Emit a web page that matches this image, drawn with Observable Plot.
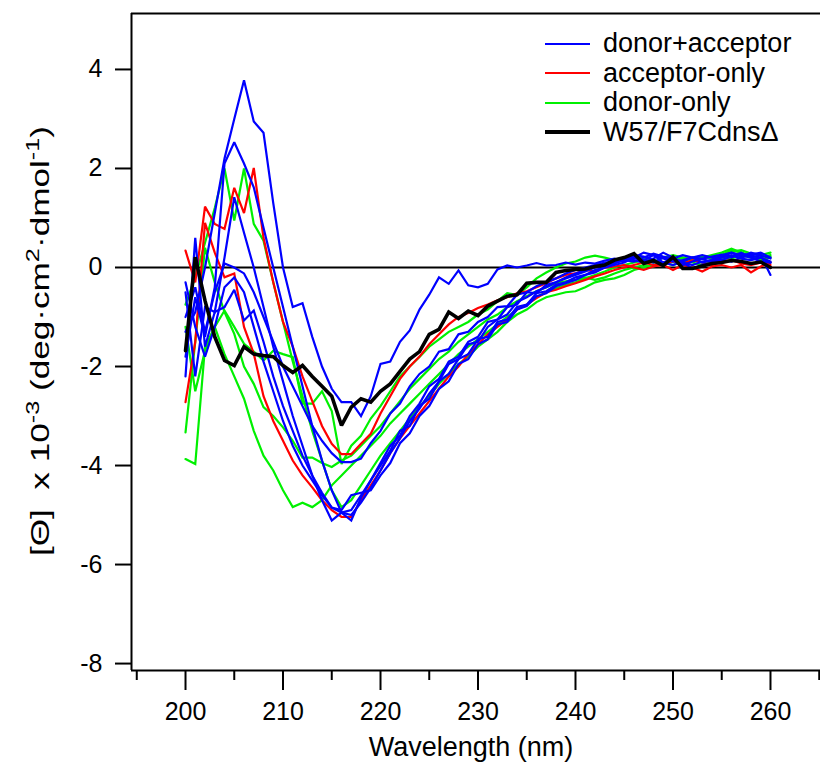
<!DOCTYPE html>
<html>
<head>
<meta charset="utf-8">
<script src="https://cdn.jsdelivr.net/npm/d3@7"></script>
<script src="https://cdn.jsdelivr.net/npm/@observablehq/plot@0.6"></script>
<style>
  html, body { margin: 0; padding: 0; background: #fff; }
  #chart { position: relative; width: 820px; height: 767px; font-family: "Liberation Sans", Arial, sans-serif; }
  #legend { position: absolute; left: 545px; top: 29px; font-size: 27px; line-height: 29.5px; color: #000; }
  #legend .row { display: flex; align-items: center; height: 29.5px; }
  #legend .swatch { width: 45px; height: 0; border-top-style: solid; margin-right: 13px; }
</style>
</head>
<body>
<div id="chart">
  <div id="legend"></div>
</div>
<script>
// Wavelength grid (nm)
const wavelength = [200,201,202,203,204,205,206,207,208,209,210,211,212,213,214,215,216,217,218,219,
  220,221,222,223,224,225,226,227,228,229,230,231,232,233,234,235,236,237,238,239,
  240,241,242,243,244,245,246,247,248,249,250,251,252,253,254,255,256,257,258,259,260];

// Mean residue ellipticity, [Θ] x 10^-3 (deg·cm²·dmol⁻¹)
// donor+acceptor samples
const da1 = [-1.3,-0.9,0.0,1.1,2.2,3.0,3.78,2.95,2.72,1.3,0.0,-0.8,-0.72,-1.4,-2.0,-2.45,-2.72,-2.72,-3.0,-2.6,
  -1.95,-1.9,-1.5,-1.27,-0.85,-0.55,-0.2,-0.33,-0.06,-0.36,-0.4,-0.33,-0.04,0.04,0.0,0.04,0.09,0.04,0.05,0.1,
  0.06,0.1,0.08,0.14,0.18,0.12,0.2,0.14,0.25,0.18,0.12,0.15,0.2,0.18,0.22,0.26,0.2,0.28,0.24,0.2,0.12];
const da2 = [-1.8,-0.6,-1.4,-0.4,2.1,2.53,2.1,1.62,0.8,0.0,-0.8,-1.6,-2.4,-3.2,-3.9,-4.5,-4.95,-5.0,-4.75,-4.45,
  -4.1,-3.75,-3.45,-3.1,-2.85,-2.55,-2.3,-1.95,-1.85,-1.55,-1.5,-1.2,-1.05,-0.95,-0.7,-0.6,-0.48,-0.4,-0.3,-0.22,
  -0.15,-0.08,0.0,0.05,0.1,0.18,0.22,0.15,0.1,0.2,0.15,0.05,0.12,0.18,0.1,0.2,0.25,0.18,0.15,0.2,0.1];
const da3 = [-0.5,-2.2,-0.8,-0.9,0.2,1.42,0.7,0.0,-0.8,-1.6,-2.3,-3.0,-3.6,-4.2,-4.7,-5.11,-4.95,-4.9,-4.6,-4.3,
  -3.95,-3.6,-3.4,-3.0,-2.75,-2.4,-2.25,-1.9,-1.8,-1.5,-1.4,-1.1,-1.05,-0.8,-0.75,-0.5,-0.52,-0.35,-0.3,-0.2,
  -0.12,-0.05,0.02,0.08,0.1,0.15,0.12,0.2,0.28,0.22,0.18,0.1,0.05,0.12,0.15,0.22,0.3,0.25,0.2,0.25,-0.15];
const da4 = [-1.0,-0.4,-1.3,-0.5,0.08,0.0,-0.12,-0.5,-1.0,-1.5,-2.0,-2.4,-2.8,-3.2,-3.5,-3.75,-3.93,-3.93,-3.86,-3.55,
  -3.3,-2.95,-2.75,-2.4,-2.15,-2.0,-1.7,-1.65,-1.35,-1.3,-1.1,-1.0,-0.8,-0.78,-0.55,-0.5,-0.38,-0.3,-0.22,-0.12,
  -0.05,0.0,0.05,0.1,0.12,0.2,0.15,0.1,0.18,0.3,0.2,0.1,-0.02,0.05,0.1,0.15,0.12,0.2,0.26,0.3,0.2];
const da5 = [-2.2,0.6,-1.6,-0.9,-0.8,-0.45,-1.07,-0.87,-1.5,-2.2,-2.8,-3.3,-3.8,-4.2,-4.55,-4.85,-4.95,-5.11,-4.65,-4.3,
  -4.0,-3.7,-3.3,-3.2,-2.8,-2.65,-2.3,-2.15,-1.85,-1.75,-1.45,-1.4,-1.1,-1.05,-0.8,-0.75,-0.52,-0.48,-0.35,-0.3,
  -0.2,-0.15,-0.05,0.0,0.08,0.15,0.25,0.22,0.15,0.1,0.18,0.25,0.2,0.1,0.15,0.25,0.3,0.22,0.3,0.25,0.18];
const da6 = [-0.3,-1.2,-1.8,-1.2,-0.4,-0.2,-0.5,-1.2,-1.9,-2.5,-3.1,-3.6,-4.0,-4.3,-4.6,-4.85,-4.9,-4.6,-4.55,-4.5,
  -4.2,-3.95,-3.55,-3.35,-3.0,-2.8,-2.45,-2.3,-1.95,-1.85,-1.55,-1.45,-1.15,-1.1,-0.85,-0.78,-0.58,-0.52,-0.38,-0.32,
  -0.25,-0.15,-0.1,0.0,0.05,0.1,0.2,0.3,0.25,0.1,0.05,0.12,0.2,0.25,0.2,0.15,0.22,0.3,0.2,0.12,0.1];

// acceptor-only samples
const ao1 = [0.34,-0.3,1.23,0.88,0.78,1.61,1.1,2.01,0.6,-0.3,-1.1,-1.6,-2.2,-2.7,-3.2,-3.56,-3.77,-3.77,-3.56,-3.36,
  -2.95,-2.6,-2.25,-2.0,-1.8,-1.55,-1.35,-1.15,-1.0,-0.92,-0.82,-0.75,-0.66,-0.6,-0.52,-0.48,-0.4,-0.32,-0.22,-0.15,
  -0.12,-0.05,-0.08,0.0,0.02,0.05,0.0,-0.05,0.02,0.05,-0.05,0.05,0.0,-0.08,0.02,0.05,0.0,0.05,-0.1,0.02,0.1];
const ao2 = [-2.72,-1.5,0.9,0.3,-0.2,-0.12,-1.2,-1.74,-2.6,-3.1,-3.5,-3.9,-4.2,-4.44,-4.7,-4.9,-5.04,-5.04,-4.7,-4.4,
  -4.1,-3.75,-3.45,-3.2,-2.95,-2.7,-2.45,-2.2,-2.0,-1.75,-1.55,-1.35,-1.2,-1.05,-0.85,-0.75,-0.62,-0.5,-0.45,-0.38,
  -0.32,-0.25,-0.18,-0.12,-0.05,0.0,0.05,0.1,0.05,0.1,0.12,0.08,0.15,0.1,0.05,0.12,0.15,0.08,0.05,0.1,0.05];

// donor-only samples
const do1 = [-0.75,-0.2,0.5,1.2,2.0,0.95,2.0,0.88,0.54,-0.3,-1.1,-1.9,-2.6,-3.3,-3.9,-4.5,-4.84,-4.7,-4.4,-4.1,
  -3.8,-3.55,-3.3,-3.05,-2.8,-2.6,-2.35,-2.15,-1.95,-1.8,-1.6,-1.45,-1.3,-1.1,-0.95,-0.85,-0.7,-0.6,-0.55,-0.5,
  -0.48,-0.4,-0.3,-0.25,-0.22,-0.15,-0.05,0.0,0.05,0.1,0.15,0.2,0.18,0.1,0.15,0.25,0.32,0.35,0.28,0.25,0.3];
const do2 = [-3.87,-3.97,-1.6,-1.2,-1.75,-2.2,-2.65,-3.3,-3.8,-4.1,-4.5,-4.84,-4.75,-4.84,-4.7,-4.4,-4.2,-4.0,-3.8,-3.6,
  -3.4,-3.15,-2.95,-2.75,-2.55,-2.35,-2.15,-1.95,-1.75,-1.6,-1.45,-1.3,-1.15,-1.0,-0.85,-0.75,-0.6,-0.5,-0.42,-0.35,
  -0.3,-0.22,-0.15,-0.08,0.0,0.05,0.1,0.15,0.1,0.2,0.25,0.2,0.15,0.2,0.25,0.3,0.38,0.3,0.22,0.15,0.2];
const do3 = [-1.2,-2.5,-1.68,-1.2,-0.87,-1.2,-1.54,-1.7,-1.88,-1.68,-1.75,-1.81,-2.75,-2.75,-2.5,-2.9,-3.97,-3.6,-3.4,-3.05,
  -2.8,-2.5,-2.2,-2.0,-1.81,-1.6,-1.45,-1.3,-1.2,-1.1,-0.95,-0.85,-0.68,-0.52,-0.55,-0.4,-0.22,-0.1,0.0,0.08,
  0.12,0.2,0.24,0.2,0.15,0.2,0.25,0.2,0.15,0.1,0.05,0.12,0.2,0.22,0.18,0.25,0.35,0.3,0.22,0.2,0.25];
const do4 = [-3.33,-1.5,0.4,-0.3,-0.9,-1.34,-2.0,-2.35,-2.82,-3.0,-3.23,-3.5,-3.84,-3.84,-3.95,-4.03,-3.9,-3.8,-3.6,-3.4,
  -3.2,-2.95,-2.7,-2.45,-2.25,-2.05,-1.85,-1.7,-1.5,-1.35,-1.2,-1.05,-0.95,-0.8,-0.68,-0.58,-0.48,-0.4,-0.32,-0.28,
  -0.25,-0.2,-0.25,-0.2,-0.12,-0.05,0.0,0.05,0.02,0.08,0.12,0.15,0.1,0.05,0.12,0.2,0.18,0.25,0.2,0.15,0.22];

// W57/F7CdnsΔ
const w57 = [-1.68,0.21,-0.67,-1.4,-1.88,-1.98,-1.6,-1.75,-1.78,-1.8,-1.98,-2.12,-1.98,-2.2,-2.4,-2.6,-3.19,-2.82,-2.65,-2.72,
  -2.5,-2.35,-2.1,-1.85,-1.7,-1.35,-1.25,-0.9,-1.03,-0.88,-0.97,-0.78,-0.68,-0.58,-0.55,-0.32,-0.3,-0.3,-0.1,-0.06,
  -0.04,-0.03,0.02,0.05,0.15,0.2,0.28,0.08,0.14,0.04,0.21,-0.02,-0.02,0.03,0.08,0.1,0.14,0.12,0.08,0.11,0.0];

const groups = [
  {name: "donor+acceptor", color: "#0000ff", width: 2.2, series: [da1, da2, da3, da4, da5, da6]},
  {name: "acceptor-only", color: "#ff0000", width: 2.2, series: [ao1, ao2]},
  {name: "donor-only", color: "#00f000", width: 2.2, series: [do1, do2, do3, do4]},
  {name: "W57/F7CdnsΔ", color: "#000000", width: 3.6, series: [w57]}
];

const xTicks = [200, 210, 220, 230, 240, 250, 260];
const xMinorTicks = [195, 205, 215, 225, 235, 245, 255, 265];
const yTicks = [-8, -6, -4, -2, 0, 2, 4];
const xDomain = [194.46, 265.13];
const yDomain = [-8.14, 5.13];

// long-format rows per series
function rowsFor(group) {
  return group.series.flatMap((values, k) =>
    values.map((v, i) => ({wavelength: wavelength[i], theta: v, id: group.name + k})));
}

// draw order: green, red, blue, then black on top
const drawOrder = [groups[2], groups[1], groups[0], groups[3]];

const plot = Plot.plot({
  width: 820,
  height: 767,
  marginLeft: 131,
  marginRight: 0,
  marginTop: 13,
  marginBottom: 97,
  x: {domain: xDomain},
  y: {domain: yDomain},
  style: {fontFamily: "'Liberation Sans', Arial, sans-serif", fontSize: "25px", color: "#000", background: "#fff", overflow: "visible"},
  marks: [
    Plot.ruleY([0], {stroke: "#000", strokeWidth: 2}),
    ...drawOrder.map(g => Plot.line(rowsFor(g), {x: "wavelength", y: "theta", z: "id", stroke: g.color, strokeWidth: g.width, strokeLinejoin: "miter", strokeMiterlimit: 2})),
    Plot.ruleY([yDomain[1]], {stroke: "#000", strokeWidth: 2}),
    Plot.ruleY([yDomain[0]], {stroke: "#000", strokeWidth: 2}),
    Plot.ruleX([xDomain[0]], {stroke: "#000", strokeWidth: 2}),
    Plot.axisY({ticks: yTicks, tickSize: 16, tickPadding: 13, label: null, strokeWidth: 2, fontSize: 25, tickFormat: d => String(d)}),
    Plot.axisX({ticks: xTicks, tickSize: 20, tickPadding: 12, label: null, strokeWidth: 2, fontSize: 25, tickFormat: d => String(d)}),
    Plot.axisX({ticks: xMinorTicks, tickSize: 10, tickFormat: () => "", label: null, strokeWidth: 2})
  ]
});

const chart = document.getElementById("chart");
chart.insertBefore(plot, chart.firstChild);

// axis titles
const svg = d3.select(plot);
svg.append("text")
  .attr("x", 471).attr("y", 749)
  .attr("text-anchor", "middle").attr("dominant-baseline", "middle")
  .attr("font-size", 27)
  .text("Wavelength (nm)");

const yTitle = svg.append("text")
  .attr("transform", "translate(49,341) rotate(-90)")
  .attr("text-anchor", "middle")
  .attr("font-size", 25)
  .attr("textLength", 430)
  .attr("lengthAdjust", "spacingAndGlyphs");
yTitle.append("tspan").text("[Θ]  x 10");
yTitle.append("tspan").attr("baseline-shift", "super").attr("font-size", 18).text("-3");
yTitle.append("tspan").text(" (deg·cm");
yTitle.append("tspan").attr("baseline-shift", "super").attr("font-size", 18).text("2");
yTitle.append("tspan").text("·dmol");
yTitle.append("tspan").attr("baseline-shift", "super").attr("font-size", 18).text("-1");
yTitle.append("tspan").text(")");

// legend
const legend = d3.select("#legend");
for (const g of groups) {
  const row = legend.append("div").attr("class", "row");
  row.append("div").attr("class", "swatch")
    .style("border-top-color", g.color)
    .style("border-top-width", (g.width > 3 ? 4 : 2.5) + "px");
  row.append("span").text(g.name);
}
</script>
</body>
</html>
